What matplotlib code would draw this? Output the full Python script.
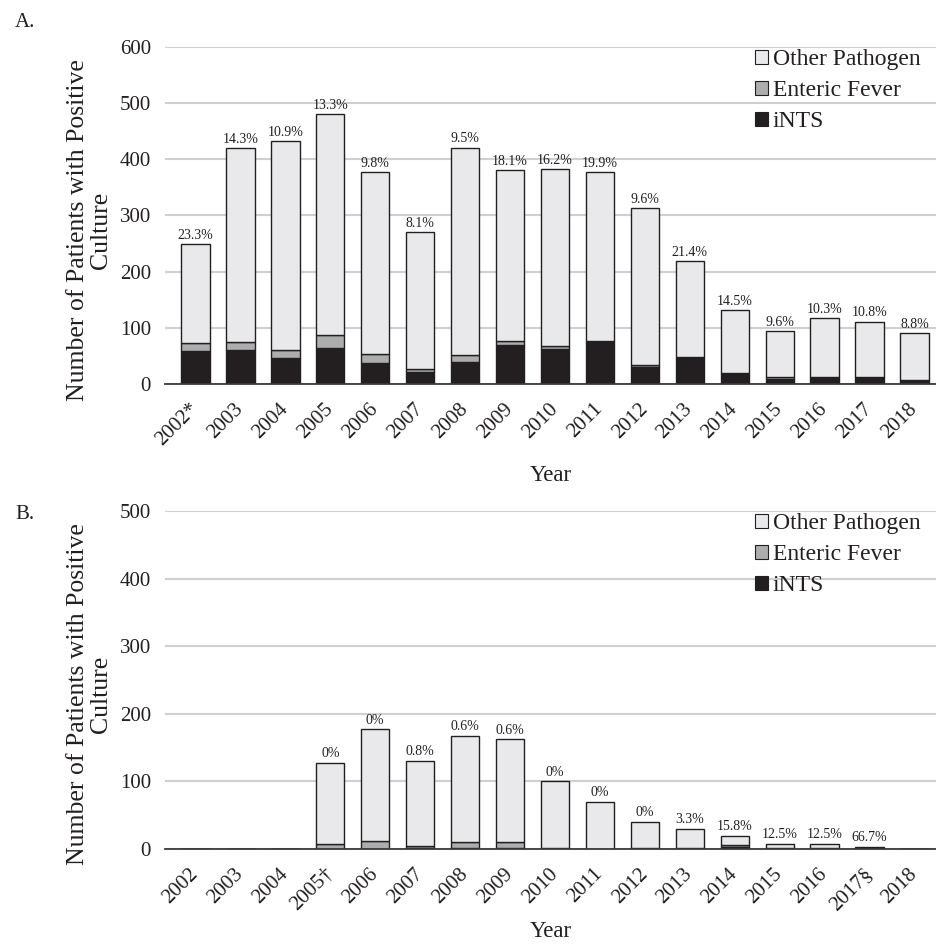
import matplotlib.pyplot as plt
import numpy as np
from matplotlib.patches import Patch

plt.rcParams['font.family'] = ['Liberation Serif', 'DejaVu Serif']

years = ['2002', '2003', '2004', '2005', '2006', '2007', '2008', '2009', '2010',
         '2011', '2012', '2013', '2014', '2015', '2016', '2017', '2018']

# Panel A
labels_a = ['2002*'] + years[1:]
total_a = [249, 420, 432, 481, 377, 270, 421, 381, 383, 377, 313, 219, 131, 94, 117, 111, 91]
ints_a = [58, 60, 47, 64, 37, 22, 40, 69, 62, 75, 30, 47, 19, 9, 12, 12, 8]
enteric_a = [15, 15, 14, 24, 16, 4, 11, 8, 6, 2, 4, 1, 0, 3, 0, 0, 0]
pct_a = ['23.3%', '14.3%', '10.9%', '13.3%', '9.8%', '8.1%', '9.5%', '18.1%', '16.2%',
         '19.9%', '9.6%', '21.4%', '14.5%', '9.6%', '10.3%', '10.8%', '8.8%']

# Panel B
labels_b = ['2002', '2003', '2004', '2005\u2020', '2006', '2007', '2008', '2009', '2010',
            '2011', '2012', '2013', '2014', '2015', '2016', '2017\u00a7', '2018']
total_b = [0, 0, 0, 127, 177, 130, 167, 162, 100, 70, 40, 30, 19, 8, 8, 3, 0]
ints_b = [0, 0, 0, 0, 0, 1, 1, 1, 0, 0, 0, 1, 3, 1, 1, 2, 0]
enteric_b = [0, 0, 0, 7, 12, 4, 9, 9, 2, 0, 1, 1, 3, 0, 0, 0, 0]
pct_b = ['', '', '', '0%', '0%', '0.8%', '0.6%', '0.6%', '0%',
         '0%', '0%', '3.3%', '15.8%', '12.5%', '12.5%', '66.7%', '']

c_other = '#e9e9eb'
c_ent = '#adadad'
c_ints = '#231f20'
edge = '#231f20'
txt = '#231f20'

fig = plt.figure(figsize=(9.37, 9.47), dpi=100)
ax_a = fig.add_axes([0.1761, 0.5945, 0.8239, 0.3559])
ax_b = fig.add_axes([0.1761, 0.1035, 0.8239, 0.3569])


def draw(ax, labels, total, ints, enteric, pct, ymax, year_y):
    ax.set_facecolor('none')
    x = np.arange(len(labels))
    ints = np.array(ints)
    enteric = np.array(enteric)
    other = np.array(total) - ints - enteric
    w = 0.63
    kw = dict(width=w, edgecolor=edge, linewidth=1.0, zorder=3)
    ax.bar(x, ints, color=c_ints, **kw)
    ax.bar(x, enteric, bottom=ints, color=c_ent, **kw)
    ax.bar(x, other, bottom=ints + enteric, color=c_other, **kw)
    for xi, t, p in zip(x, total, pct):
        if p:
            ax.text(xi, t + 4, p, ha='center', va='bottom', fontsize=10, color=txt)
    ax.set_xlim(-0.678, len(labels) - 0.5)
    ax.set_ylim(0, ymax)
    ax.set_yticks(np.arange(0, ymax + 1, 100))
    ax.yaxis.grid(True, color='#cfcfcf', linewidth=1.5, zorder=0)
    ax.set_axisbelow(True)
    for s in ['top', 'right', 'left']:
        ax.spines[s].set_visible(False)
    ax.spines['bottom'].set_color('#3a3a3a')
    ax.spines['bottom'].set_linewidth(1.3)
    ax.spines['bottom'].set_zorder(4)
    ax.tick_params(axis='y', length=0, labelsize=15, colors=txt, pad=10)
    ax.tick_params(axis='x', length=0, labelsize=15, colors=txt, pad=16)
    ax.set_xticks(x)
    ax.set_xticklabels(labels, rotation=45, ha='right', va='center',
                       rotation_mode='anchor')
    ax.set_xlabel('Year', fontsize=16.5, color=txt)
    ax.xaxis.set_label_coords(0.5, year_y)
    ax.set_ylabel('Number of Patients with Positive\nCulture', fontsize=18.5,
                  color=txt, linespacing=1.05)
    ax.yaxis.set_label_coords(-0.069, 0.457)
    handles = [Patch(facecolor=c_other, edgecolor=edge, linewidth=0.8),
               Patch(facecolor=c_ent, edgecolor=edge, linewidth=0.8),
               Patch(facecolor=c_ints, edgecolor=edge, linewidth=0.8)]
    leg = ax.legend(handles, ['Other Pathogen', 'Enteric Fever', 'iNTS'],
                    loc='upper right', bbox_to_anchor=(0.997, 1.035), frameon=False,
                    fontsize=17, handlelength=0.55, handleheight=0.55,
                    handletextpad=0.2, labelspacing=0.42, borderaxespad=0.2)
    for t in leg.get_texts():
        t.set_color(txt)


draw(ax_a, labels_a, total_a, ints_a, enteric_a, pct_a, 600, -0.240)
draw(ax_b, labels_b, total_b, ints_b, enteric_b, pct_b, 500, -0.214)

fig.text(0.016, 0.9715, 'A.', fontsize=15, color=txt)
fig.text(0.016, 0.452, 'B.', fontsize=15, color=txt)

fig.savefig('out.png', dpi=100)
